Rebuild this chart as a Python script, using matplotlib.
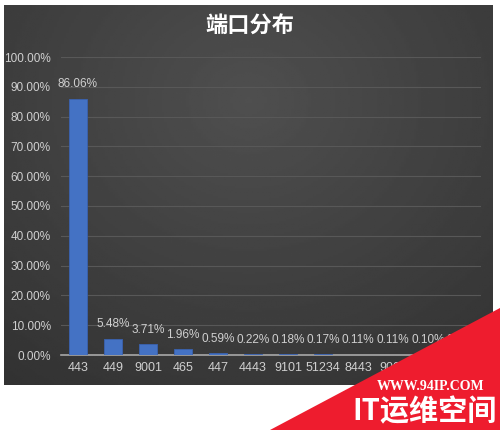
import numpy as np
import matplotlib.pyplot as plt
from matplotlib.patches import Polygon

plt.rcParams['font.family'] = ['Liberation Sans Narrow', 'Liberation Sans', 'Noto Sans CJK SC', 'DejaVu Sans']

# puertos y porcentajes (los tres ultimos quedan tapados por la marca de agua)
puertos = ['443', '449', '9001', '465', '447', '4443', '9101', '51234', '8443', '9000', '8080', '8888']
porcentajes = [86.06, 5.48, 3.71, 1.96, 0.59, 0.22, 0.18, 0.17, 0.11, 0.11, 0.10, 0.09]
ticks_y = [0, 10, 20, 30, 40, 50, 60, 70, 80, 90, 100]

fig = plt.figure(figsize=(5, 4.3), dpi=100)
fig.patch.set_facecolor('white')

# fondo oscuro con un degradado suave
fondo = fig.add_axes([0.008, 1 - 385 / 430, 0.978, 380 / 430])
yy, xx = np.mgrid[0:1:200j, 0:1:200j]
r = np.sqrt(((xx - 0.5) / 0.8) ** 2 + ((yy - 0.25) / 0.9) ** 2)
fondo.imshow(0.31 - 0.11 * r, cmap='gray', vmin=0, vmax=1, aspect='auto', extent=[0, 1, 0, 1], origin='upper')
fondo.axis('off')

ax = fig.add_axes([0.121, 75 / 430, 0.840, 298 / 430])
ax.patch.set_alpha(0)
x = np.arange(len(puertos))
ax.bar(x, porcentajes, width=0.5, color='#4472c4', edgecolor='#3a62b0', linewidth=0.6, zorder=3)

for xi, v in zip(x, porcentajes):
    ax.annotate(f'{v:.2f}%', (xi, v), xytext=(0, 6), textcoords='offset points',
                ha='center', va='bottom', color='#d0d0d0', fontsize=8.5)

ax.set_xlim(-0.5, len(puertos) - 0.5)
ax.set_ylim(0, 100)
ax.set_yticks(ticks_y)
ax.set_yticklabels([f'{t:.2f}%' for t in ticks_y])
ax.set_xticks(x)
ax.set_xticklabels(puertos)
ax.tick_params(axis='both', length=0, colors='#d0d0d0', labelsize=8.5)
ax.tick_params(axis='x', labelsize=9, pad=5)
ax.tick_params(axis='y', pad=7)
ax.grid(axis='y', color='#585858', linewidth=0.8, zorder=0)
for s in ['top', 'right', 'left']:
    ax.spines[s].set_visible(False)
ax.spines['bottom'].set_color('#a8a8a8')
ax.spines['bottom'].set_linewidth(1.2)

fig.text(0.5, 1 - 26 / 430, '端口分布', ha='center', va='center', color='white',
         fontsize=16, fontweight='bold', family=['Noto Sans CJK SC', 'DejaVu Sans'])

# marca de agua
tri = Polygon([(270 / 500, 0), (1, 122 / 430), (1, 0)], closed=True, transform=fig.transFigure,
              facecolor='#ee1c2e', edgecolor='none', zorder=10)
fig.patches.append(tri)
fig.text(0.862, 1 - 386 / 430, 'WWW.94IP.COM', ha='center', va='center', color='white',
         fontsize=10, fontweight='bold', family=['Liberation Serif', 'DejaVu Serif'], zorder=11)
fig.text(0.85, 1 - 411 / 430, 'IT运维空间', ha='center', va='center', color='white',
         fontsize=21, fontweight='bold', family=['Noto Sans CJK SC', 'DejaVu Sans'], zorder=11)

fig.savefig('out.png', dpi=100)
